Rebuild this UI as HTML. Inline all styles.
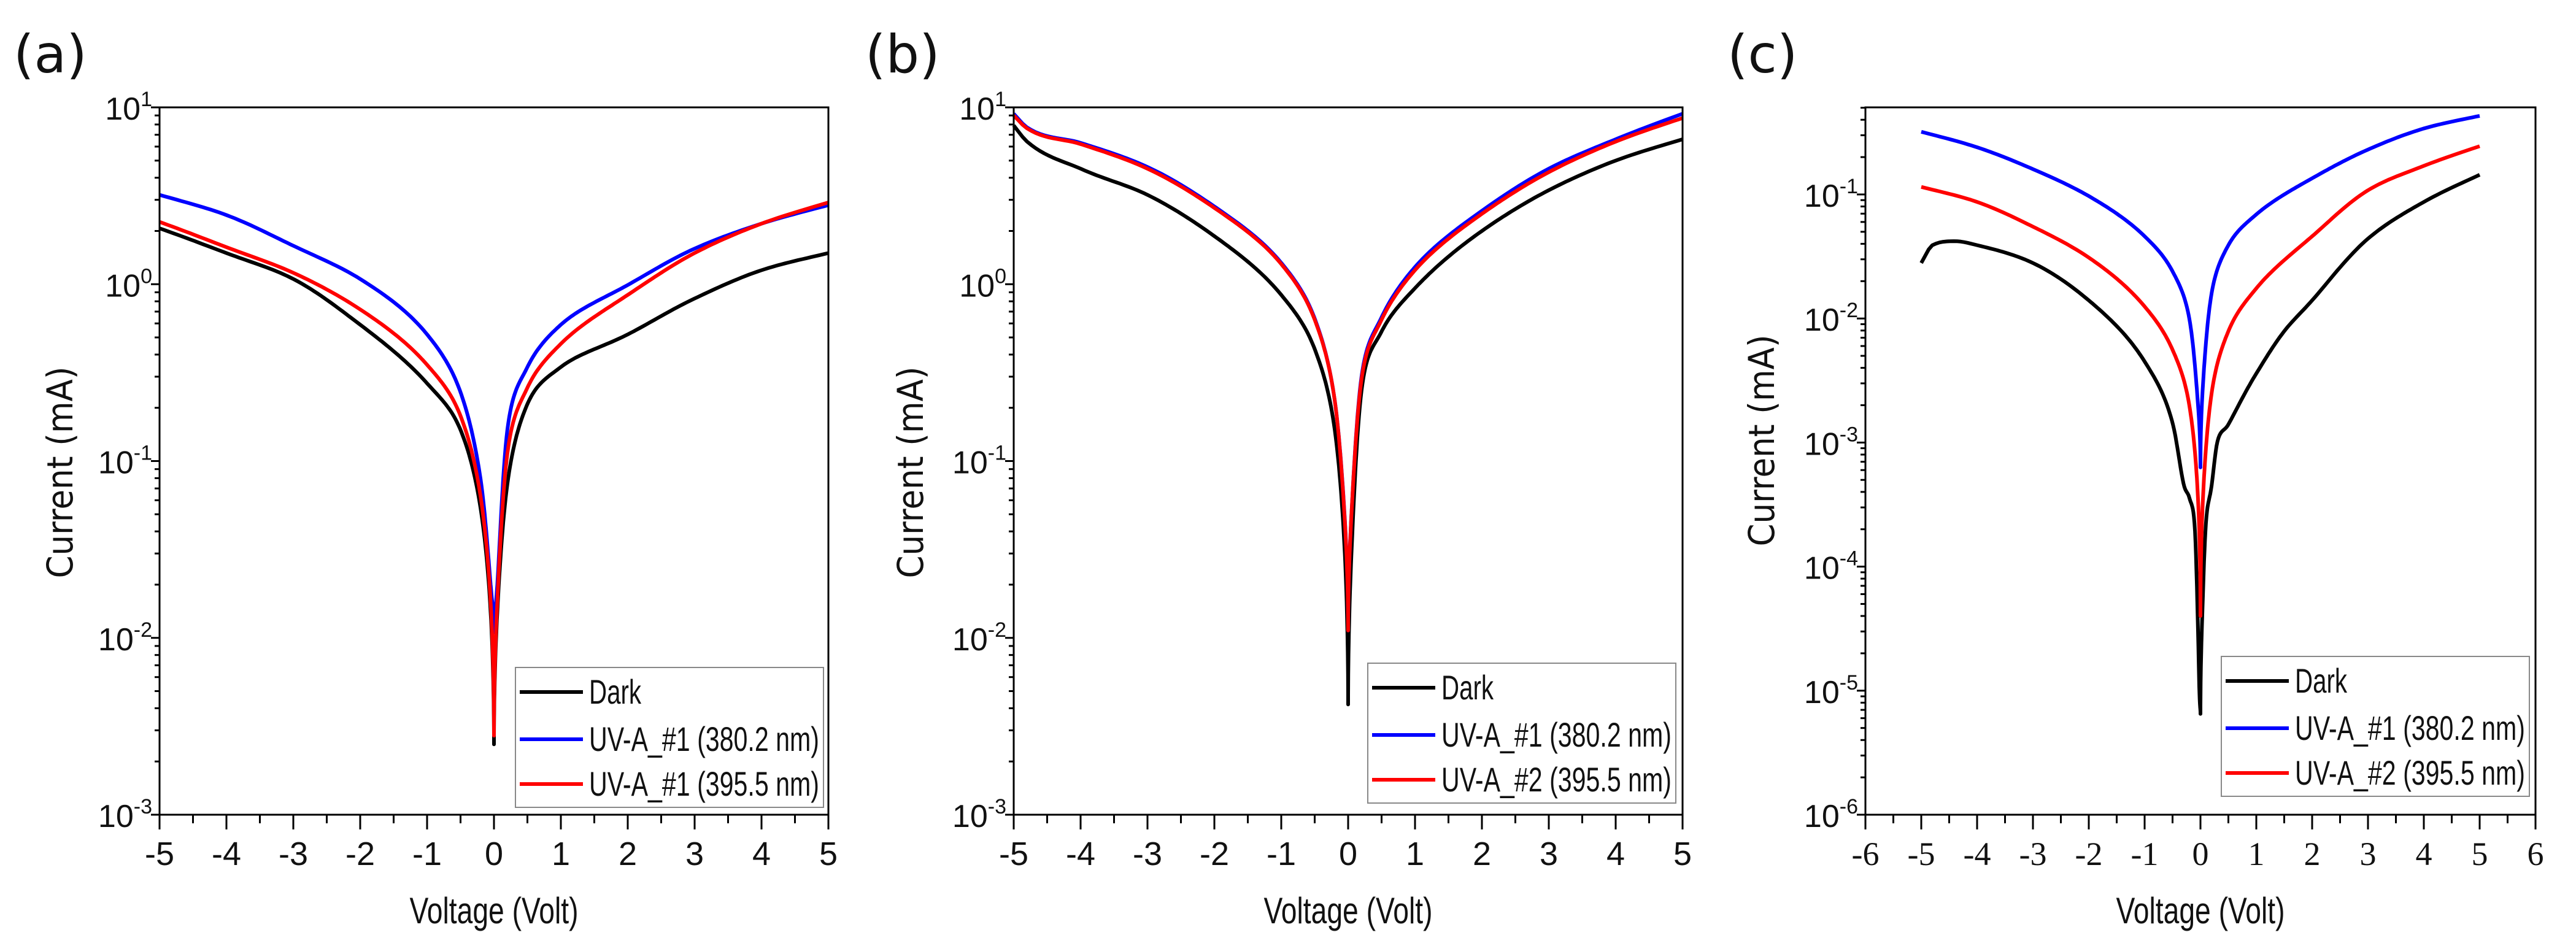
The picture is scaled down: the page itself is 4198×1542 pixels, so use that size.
<!DOCTYPE html>
<html><head><meta charset="utf-8"><style>
html,body{margin:0;padding:0;background:#fff;}
svg{display:block;font-family:"Liberation Sans",sans-serif;}
</style></head><body>
<svg id="fig" width="4198" height="1542" viewBox="0 0 4198 1542" xmlns="http://www.w3.org/2000/svg"></svg>
<script>
// ---- data ----
const aV=[-5,-4,-3,-2,-1,-0.5,-0.2,-0.05,0,0.05,0.2,0.5,1,2,3,4,5];
const aDark=[2.07,1.5,1.07,0.59,0.275,0.15,0.054,0.014,0.0025,0.014,0.074,0.21,0.34,0.52,0.83,1.2,1.5];
const aBlue=[3.2,2.46,1.65,1.07,0.52,0.245,0.079,0.02,0.0107,0.02,0.15,0.34,0.59,0.99,1.59,2.2,2.8];
const aRed=[2.25,1.62,1.16,0.72,0.35,0.18,0.063,0.016,0.0028,0.016,0.11,0.26,0.46,0.87,1.5,2.2,2.9];
const bV=[-5,-4.8,-4,-3,-2,-1,-0.5,-0.2,-0.05,0,0.05,0.2,0.5,1,2,3,4,5];
const bDark=[7.9,6.4,4.5,3.2,1.87,0.87,0.43,0.15,0.03,0.0042,0.03,0.25,0.54,0.95,2.0,3.4,5.0,6.6];
const bBlue=[9.2,7.7,6.3,4.6,2.75,1.32,0.64,0.22,0.047,0.011,0.05,0.3,0.65,1.25,2.6,4.5,6.6,9.2];
const bRed=[9.0,7.6,6.2,4.5,2.7,1.3,0.63,0.22,0.046,0.011,0.05,0.29,0.63,1.2,2.5,4.3,6.4,8.7];
const cBV=[-5,-4,-3,-2,-1,-0.5,-0.2,-0.05,0,0.05,0.2,0.5,1,2,3,4,5];
const cBlue=[0.32,0.24,0.16,0.097,0.046,0.024,0.01,0.0022,0.00063,0.0032,0.016,0.039,0.069,0.135,0.23,0.34,0.43];
const cRed=[0.115,0.087,0.055,0.031,0.0125,0.0056,0.002,0.0004,0.00004,0.0004,0.0025,0.0079,0.0175,0.046,0.108,0.17,0.245];
const cDV=[-5,-4.8,-4.4,-4,-3,-2,-1,-0.5,-0.3,-0.2,-0.1,-0.05,-0.02,0,0.03,0.1,0.2,0.3,0.5,1,1.5,2,3,4,5];
const cDark=[0.028,0.039,0.042,0.039,0.028,0.014,0.0045,0.00144,0.00046,0.00036,0.0002,0.00004,0.00001,0.0000065,0.000037,0.00023,0.00045,0.001,0.0014,0.0036,0.0079,0.014,0.044,0.087,0.144];

const NS="http://www.w3.org/2000/svg";
const svg=document.getElementById('fig');
function mk(tag,attrs,parent){const e=document.createElementNS(NS,tag);for(const k in attrs)e.setAttribute(k,attrs[k]);(parent||svg).appendChild(e);return e;}

// monotone cubic interpolation, returns function
function monoFn(xs,ys){
  const n=xs.length,dx=[],m=[],t=[];
  for(let i=0;i<n-1;i++){dx.push(xs[i+1]-xs[i]);m.push((ys[i+1]-ys[i])/dx[i]);}
  t[0]=m[0];t[n-1]=m[n-2];
  for(let i=1;i<n-1;i++){t[i]=(m[i-1]*m[i]<=0)?0:(m[i-1]+m[i])/2;}
  for(let i=0;i<n-1;i++){
    if(m[i]===0){t[i]=0;t[i+1]=0;continue;}
    const a=t[i]/m[i],b=t[i+1]/m[i],s=a*a+b*b;
    if(s>9){const tau=3/Math.sqrt(s);t[i]=tau*a*m[i];t[i+1]=tau*b*m[i];}
  }
  return x=>{let i=0;while(i<n-2&&x>xs[i+1])i++;
    const h=dx[i],s=(x-xs[i])/h,s2=s*s,s3=s2*s;
    return (2*s3-3*s2+1)*ys[i]+(s3-2*s2+s)*h*t[i]+(-2*s3+3*s2)*ys[i+1]+(s3-s2)*h*t[i+1];};
}
// smooth curve: interpolate log(I) vs sqrt|V| on each branch
function curvePts(V,I,xs,ys){
  const out=[];
  const iz=V.indexOf(0);
  const left={u:[],l:[]},right={u:[],l:[]};
  for(let i=iz;i>=0;i--){left.u.push(Math.sqrt(-V[i]));left.l.push(Math.log10(I[i]));}
  for(let i=iz;i<V.length;i++){right.u.push(Math.sqrt(V[i]));right.l.push(Math.log10(I[i]));}
  const fl=monoFn(left.u,left.l),fr=monoFn(right.u,right.l);
  const N=150,ul=left.u[left.u.length-1],ur=right.u[right.u.length-1];
  for(let k=N;k>=0;k--){const u=ul*k/N;out.push([xs(-u*u),ys(Math.pow(10,fl(u)))]);}
  for(let k=1;k<=N;k++){const u=ur*k/N;out.push([xs(u*u),ys(Math.pow(10,fr(u)))]);}
  return out;
}

function panel(o){
  const g=mk('g',{});
  
  
  const L=o.left,R=o.right,T=175,B=1328;
  const xs=v=>L+(v-o.xmin)/(o.xmax-o.xmin)*(R-L);
  const ys=v=>B-(Math.log10(v)-o.lmin)/(o.lmax-o.lmin)*(B-T);
  const lab=mk('text',{x:o.labX,y:118,'font-size':86,'font-family':'"DejaVu Sans",sans-serif',fill:'#111'},g);
  lab.textContent='('+o.id+')';
  
  
  o.series.forEach(s=>{
    const pts=curvePts(s.v,s.y,xs,ys);
    const d='M'+pts.map(p=>p[0].toFixed(1)+','+p[1].toFixed(1)).join(' L');
    const p=mk('path',{d:d,fill:'none',stroke:s.c,'stroke-width':6,'stroke-linejoin':'round'},g);
    
    
  });
  const fr=mk('rect',{x:L,y:T,width:R-L,height:B-T,fill:'none',stroke:'#000','stroke-width':3},g);
  
  
  for(let v=o.xmin;v<=o.xmax+1e-9;v+=0.5){
    const x=xs(v),maj=Math.abs(v-Math.round(v))<1e-9;
    mk('line',{x1:x,x2:x,y1:B,y2:B+(maj?24:14),stroke:'#000','stroke-width':3},g);
    if(maj){const t=mk('text',{x:x,y:1410,'font-size':54,'text-anchor':'middle',fill:'#111','font-family':o.serifX?'"Liberation Serif",serif':'"Liberation Sans",sans-serif'},g);
      t.textContent=String(Math.round(v));
      
      }
  }
  for(let d=Math.floor(o.lmin);d<=Math.ceil(o.lmax);d++){
    for(let k=1;k<10;k++){
      const lv=d+Math.log10(k);if(lv<o.lmin-1e-9||lv>o.lmax+1e-9)continue;
      const y=ys(Math.pow(10,lv));
      mk('line',{x1:L,x2:L-(k===1?14:8),y1:y,y2:y,stroke:'#000','stroke-width':3},g);
      if(k===1){const t=mk('text',{x:L-12,y:y+20,'font-size':52,'text-anchor':'end',fill:'#111'},g);
        
        
        const a=mk('tspan',{},t);a.textContent='10';
        const b=mk('tspan',{dy:-22,'font-size':34},t);b.textContent=String(d);}
    }
  }
  const xt=mk('text',{x:(L+R)/2,y:1505,'font-size':60,'text-anchor':'middle',fill:'#111',textLength:275,lengthAdjust:'spacingAndGlyphs'},g);
  xt.textContent='Voltage (Volt)';
  
  
  const yt=mk('text',{x:0,y:0,'font-size':58,'text-anchor':'middle',fill:'#111','font-family':'"DejaVu Sans",sans-serif',textLength:345,lengthAdjust:'spacingAndGlyphs',transform:'translate('+(o.ytX)+','+o.ytY+') rotate(-90)'},g);
  yt.textContent='Current (mA)';
  
  
  const lg=mk('g',{},g);
  
  
  mk('rect',{x:o.lgX,y:o.lgY,width:502,height:228,fill:'#fff',stroke:'#888','stroke-width':2},lg);
  [40,117,190].forEach((dy,i)=>{
    const s=o.series[i];
    mk('line',{x1:o.lgX+7,x2:o.lgX+110,y1:o.lgY+dy,y2:o.lgY+dy,stroke:s.c,'stroke-width':6},lg);
    const t=mk('text',{x:o.lgX+120,y:o.lgY+dy+19,'font-size':56,fill:'#111'},lg);
    t.setAttribute('textLength',i>0?375:85);
    t.setAttribute('lengthAdjust','spacingAndGlyphs');
    t.textContent=s.label;
    
    
  });
}

panel({id:'a',left:260,right:1350,xmin:-5,xmax:5,lmin:-3,lmax:1,labX:22,ytX:118,ytY:770,lgX:840,lgY:1088,
  series:[{n:'dark',c:'#000',v:aV,y:aDark,label:'Dark'},
          {n:'uva1',c:'#0000ff',v:aV,y:aBlue,label:'UV-A_#1 (380.2 nm)'},
          {n:'uva1-395',c:'#ff0000',v:aV,y:aRed,label:'UV-A_#1 (395.5 nm)'}]});
panel({id:'b',left:1652,right:2742,xmin:-5,xmax:5,lmin:-3,lmax:1,labX:1410,ytX:1504,ytY:770,lgX:2229,lgY:1081,
  series:[{n:'dark',c:'#000',v:bV,y:bDark,label:'Dark'},
          {n:'uva1',c:'#0000ff',v:bV,y:bBlue,label:'UV-A_#1 (380.2 nm)'},
          {n:'uva2',c:'#ff0000',v:bV,y:bRed,label:'UV-A_#2 (395.5 nm)'}]});
panel({id:'c',left:3040,right:4132,xmin:-6,xmax:6,lmin:-6,lmax:-0.298,labX:2815,ytX:2891,ytY:718,lgX:3620,lgY:1070,serifX:true,
  series:[{n:'dark',c:'#000',v:cDV,y:cDark,label:'Dark'},
          {n:'uva1',c:'#0000ff',v:cBV,y:cBlue,label:'UV-A_#1 (380.2 nm)'},
          {n:'uva2',c:'#ff0000',v:cBV,y:cRed,label:'UV-A_#2 (395.5 nm)'}]});
</script>
</body></html>
